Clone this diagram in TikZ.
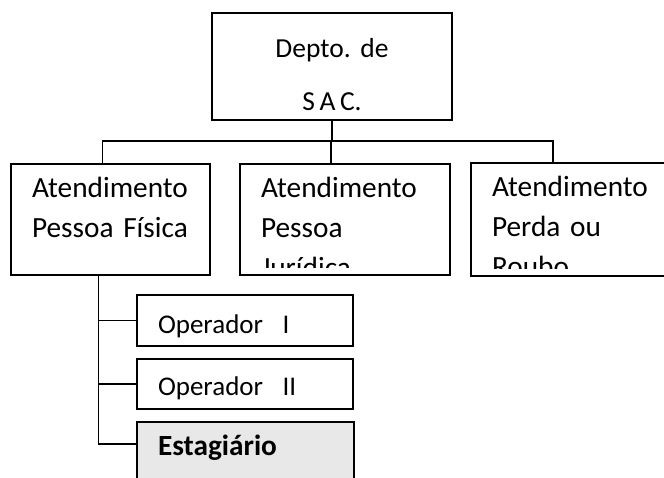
\documentclass[tikz,border=0pt]{standalone}
\usepackage{fontspec}
\setmainfont{Carlito}
\definecolor{cinza}{RGB}{232,232,232}
\newcommand{\fonteorg}{\fontsize{29.3}{40}\selectfont}
\newcommand{\fontemenor}{\fontsize{27}{40}\selectfont}
\begin{document}
\begin{tikzpicture}[x=1pt, y=-1pt,
  caixa/.style={draw=black, line width=1.3pt, rectangle, anchor=north west, inner sep=0pt, outer sep=0pt},
  liga/.style={draw=black, line width=1.3pt},
  rotulo/.style={inner sep=0pt, text width=300pt, align=left, font=\fonteorg},
  texto/.style 2 args={path picture={
    \clip ([yshift=8pt]path picture bounding box.south west) rectangle (path picture bounding box.north east);
    \node[rotulo, anchor=base west] at ([shift={(21pt,-#1)}]path picture bounding box.north west) {#2};}},
  textocentro/.style 2 args={path picture={\node[rotulo, text width=240pt, align=center, anchor=base] at ([yshift=-#1]path picture bounding box.north) {#2};}}]
\useasboundingbox (0,0) rectangle (664,477);
\clip (0,0) rectangle (664,477);
\node[caixa, minimum width=240pt, minimum height=107pt, textocentro={44pt}{\fontsize{27.5}{40}\selectfont Depto.\ de\\[13pt]S\thinspace A\thinspace C.}] (depto) at (212,13) {};
\node[caixa, minimum width=199pt, minimum height=111pt, texto={33pt}{Atendimento\\Pessoa Física}] (fisica) at (11,164) {};
\node[caixa, minimum width=210pt, minimum height=111pt, texto={33pt}{Atendimento\\Pessoa\\Jurídica}] (juridica) at (240,164) {};
\node[caixa, minimum width=240pt, minimum height=113pt, texto={33pt}{Atendimento\\Perda ou\\Roubo}] (perda) at (471,163) {};
\node[caixa, minimum width=216pt, minimum height=51pt, texto={38pt}{\fontemenor Operador\ \ I}] (op1) at (137,295) {};
\node[caixa, minimum width=216pt, minimum height=50pt, texto={36pt}{\fontemenor Operador\ \ II}] (op2) at (137,359) {};
\node[caixa, fill=cinza, minimum width=217pt, minimum height=60pt, texto={33pt}{\textbf{Estagiário}}] (estag) at (137,422) {};
\coordinate (barra) at (331,141);
\coordinate (tronco) at ([xshift=-12pt]fisica.south);
\path[liga] (depto.south) -- (depto.south |- barra);
\path[liga] ([xshift=-8pt]fisica.north) |- (barra) -| ([xshift=82pt]perda.north west);
\path[liga] (barra) -- (juridica.north -| barra);
\path[liga] (tronco) |- (op1.west);
\path[liga] (tronco) |- (op2.west);
\path[liga] (tronco) |- ([yshift=8pt]estag.west);
\end{tikzpicture}
\end{document}
